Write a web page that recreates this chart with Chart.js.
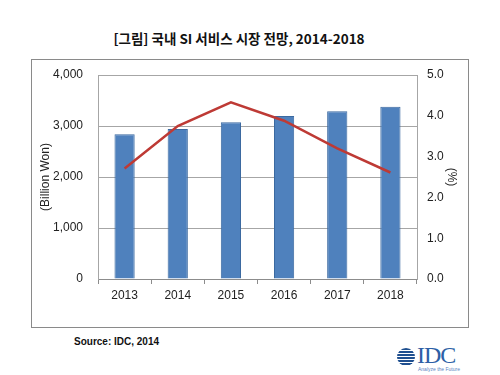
<!DOCTYPE html>
<html>
<head>
<meta charset="utf-8">
<script src="https://cdn.jsdelivr.net/npm/chart.js@4.4.0/dist/chart.umd.min.js"></script>
<style>
  html, body { margin:0; padding:0; background:#fff; width:500px; height:375px; overflow:hidden; position:relative; }
  #title { position:absolute; left:0; width:478px; top:28px; text-align:center; font-family:"Noto Sans CJK KR", sans-serif; font-weight:bold; font-size:13.5px; color:#111; }
  #box { position:absolute; left:31px; top:59px; width:436px; height:267px; border:1px solid #8a8a8a; }
  #wrap { position:absolute; left:31px; top:59px; width:438px; height:269px; }
  #source { position:absolute; left:74px; top:336px; font-family:"Liberation Sans", Arial, sans-serif; font-weight:bold; font-size:10px; color:#111; }
  #logo { position:absolute; left:397px; top:345px; width:70px; height:26px; }
  #globe { position:absolute; left:0; top:3px; width:18px; height:18px; border-radius:50%; overflow:hidden;
    background: repeating-linear-gradient(#1f4f8f 0 2px, #ffffff 2px 3px); }
  #idc { position:absolute; left:20px; top:-3px; font-family:"Liberation Serif", "DejaVu Serif", serif; font-size:24px; color:#2d5fa6; letter-spacing:-1px; }
  #tag { position:absolute; left:21px; top:21px; font-family:"Liberation Sans", sans-serif; font-size:5px; color:#5b84bf; white-space:nowrap; }
</style>
</head>
<body>
<div id="title">[그림] 국내 SI 서비스 시장 전망, 2014-2018</div>
<div id="box"></div>
<div id="wrap"><canvas id="c" width="438" height="269"></canvas></div>
<div id="source">Source: IDC, 2014</div>
<div id="logo"><div id="globe"></div><div id="idc">IDC</div><div id="tag">Analyze the Future</div></div>
<script>
const categories = ['2013', '2014', '2015', '2016', '2017', '2018'];
const marketValues = [2837, 2941, 3072, 3196, 3288, 3379];
const growthRates = [2.71, 3.75, 4.33, 3.88, 3.20, 2.61];
const leftTicks = [0, 1000, 2000, 3000, 4000];
const rightTicks = [0, 1, 2, 3, 4, 5];

const tickFont = { family: '"Liberation Sans", Arial, sans-serif', size: 12 };
const tickColor = '#222';

function fixBox(s, w, h) {
  if (w !== null) s.width = w;
  if (h !== null) s.height = h;
  s.paddingTop = 0; s.paddingBottom = 0; s.paddingLeft = 0; s.paddingRight = 0;
}

new Chart(document.getElementById('c'), {
  data: {
    labels: categories,
    datasets: [
      {
        type: 'line',
        data: growthRates,
        yAxisID: 'y2',
        borderColor: '#BE3A35',
        borderWidth: 2.5,
        pointRadius: 0,
        tension: 0,
        order: 0
      },
      {
        type: 'bar',
        data: marketValues,
        yAxisID: 'y',
        backgroundColor: '#4F81BD',
        borderColor: '#3B69A0',
        borderWidth: 1,
        categoryPercentage: 1,
        barPercentage: 0.38,
        order: 1
      }
    ]
  },
  options: {
    responsive: false,
    animation: false,
    events: [],
    layout: { padding: { top: 16, left: 0, right: 0, bottom: 0 } },
    plugins: { legend: { display: false }, tooltip: { enabled: false } },
    scales: {
      x: {
        grid: { display: true, drawOnChartArea: false, drawTicks: true, tickLength: 5, color: '#8c8c8c', offset: true },
        border: { display: true, color: '#8c8c8c' },
        ticks: { font: tickFont, color: tickColor, padding: 4 },
        afterFit: s => fixBox(s, null, 49)
      },
      y: {
        position: 'left',
        min: 0, max: 4000,
        afterBuildTicks: s => { s.ticks = leftTicks.map(v => ({ value: v })); },
        grid: { color: '#a6a6a6', drawTicks: false },
        border: { display: true, color: '#a6a6a6' },
        ticks: { font: tickFont, color: tickColor, padding: 15,
          callback: v => v.toLocaleString('en-US') },
        title: { display: true, text: '(Billion Won)', font: { family: '"Liberation Sans", Arial, sans-serif', size: 12 }, color: tickColor, padding: { top: 7, bottom: 0 } },
        afterFit: s => fixBox(s, 67, null)
      },
      y2: {
        position: 'right',
        min: 0, max: 5,
        afterBuildTicks: s => { s.ticks = rightTicks.map(v => ({ value: v })); },
        grid: { drawOnChartArea: false, drawTicks: false },
        border: { display: true, color: '#a6a6a6' },
        ticks: { font: tickFont, color: tickColor, padding: 10, callback: v => Number(v).toFixed(1) },
        title: { display: true, text: '(%)', font: { family: '"Liberation Sans", Arial, sans-serif', size: 12 }, color: tickColor, padding: { top: 10, bottom: 0 } },
        afterFit: s => fixBox(s, 52, null)
      }
    }
  }
});
</script>
</body>
</html>
